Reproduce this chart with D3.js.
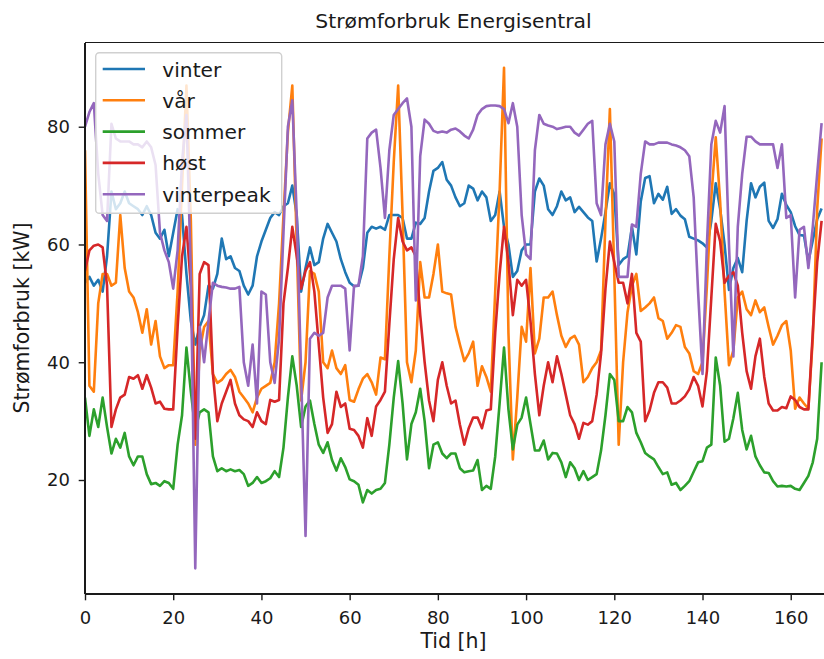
<!DOCTYPE html>
<meta charset="utf-8">
<head>
<style>
body { margin: 0; background: #fff; }
text { font-family: "DejaVu Sans", sans-serif; fill: #1a1a1a; }
.line { fill: none; stroke-width: 2.6; stroke-linejoin: round; }
.axis line { stroke: #1a1a1a; stroke-width: 1.4; }
.spine { stroke: #1a1a1a; stroke-width: 1.4; shape-rendering: crispEdges; }
</style>
<script src="https://cdnjs.cloudflare.com/ajax/libs/d3/7.8.5/d3.min.js"></script>
</head>
<body>
<svg id="chart" width="824" height="659"></svg>
<script>
// timer 0..167 for en uke
var hours = d3.range(168)

var vinter = [53.5, 54.5, 53, 54, 52, 58, 69, 66, 67, 69,
 67, 66.5, 66, 65, 66.5, 65, 62, 61, 62.5, 58,
 62, 66, 65, 55, 47, 43, 46, 48, 53, 52.5,
 55, 61, 57.5, 58, 56, 55.5, 53, 51.5, 53, 58,
 60.5, 62.5, 64.5, 65.5, 65, 66.5, 67, 70, 65, 52,
 56, 59.5, 56.5, 57, 61, 63.5, 62, 60.5, 57.5, 55.3,
 53.5, 52.9, 53, 56, 62, 63, 62.7, 63, 62.5, 65,
 65, 65, 64.5, 61, 61, 63.7, 63.5, 64.5, 69, 72.5,
 73, 74, 71, 70, 68, 66.5, 67, 70, 69.5, 67.5,
 69, 68, 64, 65, 69, 63, 60, 54.5, 55.5, 59,
 60, 60, 69, 71.2, 70, 66, 65, 66.5, 69, 67.5,
 68, 65.5, 66.4, 65.5, 64.6, 64, 57.1, 61, 65.5, 70.4,
 68.5, 56.5, 57.5, 58, 63, 58.3, 67.3, 71.3, 71.6, 67,
 68.6, 67.6, 69.8, 65.2, 66, 64.9, 64.3, 61.3, 61, 60.7,
 60.2, 59.5, 64, 70.4, 66, 60, 52.3, 56, 57.7, 55.3,
 64, 70.4, 68, 69.8, 70.5, 64, 62.8, 64.3, 68.6, 66.7,
 65.5, 63.1, 61.6, 61.5, 57.1, 60.7, 64.3, 66.1]

var vaar = [76, 36, 35, 50, 55, 55, 53, 53.5, 65, 56,
 52, 51, 48.5, 45, 49, 43, 47, 41, 39, 39.5,
 39.5, 52, 70, 87, 64, 26, 42, 46, 47, 38,
 36.5, 37, 38, 38.7, 37.5, 35, 34, 33, 31.5, 34,
 35.5, 36, 36.5, 40, 50, 65, 79, 87, 60, 33.5,
 40, 55.5, 55, 52, 40, 39, 42, 39, 38, 39.5,
 33.6, 33.3, 35.4, 37.2, 38, 36.6, 34.5, 40.8, 40.5, 58,
 74, 87, 65, 40, 36.6, 42, 57, 51, 51, 55,
 60, 52, 51.7, 51.5, 46, 43, 40.2, 41.5, 43.5, 36,
 39.3, 37.5, 35, 52, 69, 90, 45, 23.5, 34, 46,
 43.5, 56, 41.5, 44, 51, 51, 52, 48, 44.5, 42.6,
 44, 44.5, 43, 36.6, 37.5, 39, 40, 42, 64, 83,
 55, 26, 40, 48.5, 53, 55, 48.7, 49.3, 50, 51,
 47.5, 47, 44, 45, 46.3, 46, 42.6, 41.5, 38.5, 38,
 40, 53, 68, 78.2, 67.3, 52, 39.5, 42, 51, 52,
 49, 48, 50.5, 48.5, 49.3, 46, 43, 44.5, 46.3, 47,
 42, 32.1, 34, 33, 32.1, 44, 66, 78]

var sommer = [34, 27.5, 32, 29, 34, 29, 24.5, 27, 25.5, 28,
 24, 22.5, 24, 24, 21, 19.3, 19.5, 19, 19.8, 19.5,
 18.5, 26, 31, 42.5, 35, 28.5, 31.5, 32, 31.5, 24,
 21.5, 22, 21.5, 21.8, 21.5, 21.7, 21, 19, 19.5, 20.5,
 19.5, 19.8, 20.3, 21.5, 20.5, 25.5, 34, 41, 36, 29,
 32.5, 33.5, 29.5, 26, 24.6, 26.4, 23.4, 21.6, 23.7, 22.2,
 20.1, 19.8, 19.2, 16.2, 18.3, 17.7, 18.3, 18.5, 19.5, 26,
 34, 40.2, 33, 23.5, 29.5, 31.5, 35.5, 30, 22, 26,
 26.4, 24.5, 23.7, 24.5, 24.5, 22, 21.3, 21.5, 21.6, 23.4,
 18.3, 19, 18.5, 24, 33, 42.5, 32, 25.2, 29.4, 30.6,
 34, 29.5, 25, 25, 26.7, 23.5, 24.6, 24.5, 23, 20.5,
 23, 22, 20, 21.5, 20, 20.5, 21, 25, 31, 38,
 37, 30, 30, 32.4, 31.5, 28, 26.4, 24.6, 24, 23.5,
 22.2, 21, 21.3, 19.2, 19.5, 18.3, 19, 19.8, 21.4, 23,
 23.2, 25.5, 26, 40.8, 36, 26.5, 27, 30.5, 34.8, 28.5,
 25.2, 27.5, 24, 22.5, 21.3, 21.2, 19.8, 18.9, 19, 18.9,
 19, 18.5, 18.3, 19.5, 20.7, 23, 27, 40]

var hoest = [55.5, 59, 59.8, 60, 59.5, 53, 29, 32, 34, 34.5,
 37.5, 37.2, 37.8, 35.5, 37.8, 35.7, 33, 33.3, 32.1, 32,
 32, 46, 58, 63, 53, 27, 55, 57, 56.5, 38,
 30, 33, 35, 37, 33, 31, 30.3, 30, 29, 31.5,
 30, 29.5, 33.6, 33.3, 33.6, 50, 56, 63, 58, 52.5,
 55.5, 57, 52, 43, 34, 28, 29.5, 35, 32.4, 33,
 28.7, 28.5, 27.5, 25.5, 30.5, 27.5, 32.5, 33.6, 35, 46.5,
 57.5, 64.5, 60.5, 59, 59.5, 58, 48, 40, 33.5, 30,
 37, 40, 36, 33, 33.5, 29.4, 26, 28.8, 30.6, 30.6,
 28.8, 31.8, 32, 45, 55, 63, 57, 48, 54, 53,
 54, 47, 38, 31, 36, 40, 36.6, 41, 38, 34.5,
 31, 29.5, 27, 29.7, 29.4, 30, 34.5, 41.5, 52.5, 60.5,
 57, 53.5, 53.5, 50, 55, 45, 43.5, 30, 31.8, 34.8,
 36.6, 36.6, 35.7, 33, 33, 33.5, 34.2, 35.4, 37.5, 36,
 32.5, 38.5, 51, 63.5, 60.5, 53.5, 54.7, 55.3, 53, 45,
 38.5, 35.5, 41, 44, 37.5, 33, 31.8, 31.8, 32.4, 32.2,
 34.2, 33.6, 32.4, 32, 32, 45, 57, 64]

var vinterpeak = [80, 82.5, 84, 72, 65, 64, 80.5, 78, 77.5, 77.5,
 77.5, 77, 77, 76.5, 77.5, 76.5, 73.5, 62, 59, 57,
 52.5, 59, 74, 82, 55, 5, 46, 40, 47, 53.5,
 53, 52.8, 52.7, 52.5, 52.5, 52.8, 40, 36, 43, 33,
 52, 51.5, 40, 36.5, 44, 62, 80, 84.5, 65, 38,
 10.5, 44, 45, 44.5, 45, 51, 53, 53, 53, 52.5,
 42, 53, 53, 58, 78, 79, 79.5, 73, 64.5, 76,
 82, 83, 84, 84.8, 80, 50.5, 75, 81.2, 80.5, 79.3,
 79, 79.2, 79, 79.5, 79.7, 79.2, 78.5, 78, 79.5, 82,
 83, 83.5, 83.6, 83.6, 83.5, 83, 80.6, 84, 80, 65,
 58.3, 57.5, 76, 82, 80.5, 80.2, 80, 79.6, 79.8, 80,
 80, 79, 78.5, 79.5, 80.5, 81, 67, 65, 77, 80.5,
 77.5, 54.5, 54.5, 54.5, 63.4, 63, 72, 77.5, 77, 77,
 77.3, 77.3, 77.3, 77, 76.8, 76.5, 76, 75, 68, 52,
 38, 60, 77, 81, 79, 83.5, 60, 41, 63, 72,
 78.3, 78.3, 77.5, 77, 77, 77, 77, 73, 77, 64.5,
 65, 51, 62.5, 63, 56, 63, 72, 80.6]

var names = ["vinter", "vår", "sommer", "høst", "vinterpeak"]
var colors = ["#1f77b4", "#ff7f0e", "#2ca02c", "#d62728", "#9467bd"]
var xTicks = [0, 20, 40, 60, 80, 100, 120, 140, 160]
var yTicks = [20, 40, 60, 80]

var series = [vinter, vaar, sommer, hoest, vinterpeak]

var svg = d3.select("#chart")
// plottrammen (ikke "top", den er opptatt av window.top)
var pLeft = 85, pTop = 42.7, pBottom = 594, pRight = 830

var x = d3.scaleLinear().domain([0, 167]).range([pLeft, 821.6])
var y = d3.scaleLinear().domain([0.64, 94.27]).range([pBottom, pTop])

svg.append("clipPath").attr("id", "clip")
  .append("rect").attr("x", pLeft).attr("y", pTop)
  .attr("width", pRight - pLeft).attr("height", pBottom - pTop)

var line = d3.line().x(function(d, i) { return x(hours[i]) }).y(function(d) { return y(d) })

svg.append("g").attr("clip-path", "url(#clip)")
  .selectAll("path").data(series).enter().append("path")
  .attr("class", "line")
  .attr("d", line)
  .style("stroke", function(d, i) { return colors[i] })

// akser
svg.append("g").attr("class", "axis")
  .attr("transform", "translate(0," + pBottom + ")")
  .call(d3.axisBottom(x).tickValues(xTicks).tickSize(6.3).tickPadding(11).tickSizeOuter(0))
svg.append("g").attr("class", "axis")
  .attr("transform", "translate(" + pLeft + ",0)")
  .call(d3.axisLeft(y).tickValues(yTicks).tickSize(6.3).tickPadding(8.7).tickSizeOuter(0))
svg.selectAll(".axis .domain").remove()
svg.selectAll(".axis text").style("font-size", "18px").style("fill", "#1a1a1a")
  .style("font-family", "DejaVu Sans")

// rammen
svg.append("line").attr("class", "spine").attr("x1", pLeft).attr("x2", pLeft).attr("y1", pTop).attr("y2", pBottom)
svg.append("line").attr("class", "spine").attr("x1", pLeft).attr("x2", pRight).attr("y1", pBottom).attr("y2", pBottom)
svg.append("line").attr("class", "spine").attr("x1", pLeft).attr("x2", pRight).attr("y1", pTop).attr("y2", pTop)

svg.append("text").attr("x", 453.5).attr("y", 28).attr("text-anchor", "middle")
  .style("font-size", "20.3px").text("Strømforbruk Energisentral")
svg.append("text").attr("x", 453.5).attr("y", 648).attr("text-anchor", "middle")
  .style("font-size", "20.5px").text("Tid [h]")
svg.append("text").attr("transform", "translate(28.5,318) rotate(-90)").attr("text-anchor", "middle")
  .style("font-size", "20.5px").text("Strømforbruk [kW]")

// legende
var leg = svg.append("g")
leg.append("rect").attr("x", 95.7).attr("y", 52.7).attr("width", 186).attr("height", 160.6)
  .attr("rx", 3.6).style("fill", "#fff").style("fill-opacity", 0.8)
  .style("stroke", "#d0d0d0").style("stroke-width", 1.4)
var rows = leg.selectAll("g.row").data(names).enter().append("g").attr("class", "row")
  .attr("transform", function(d, i) { return "translate(0," + (69 + i * 31.3) + ")" })
rows.append("line").attr("x1", 102.7).attr("x2", 145).attr("y1", 0).attr("y2", 0)
  .style("stroke", function(d, i) { return colors[i] }).style("stroke-width", 2.6)
rows.append("text").attr("x", 162.3).attr("y", 7.5).style("font-size", "20.2px").text(function(d) { return d })
</script>
</body>
